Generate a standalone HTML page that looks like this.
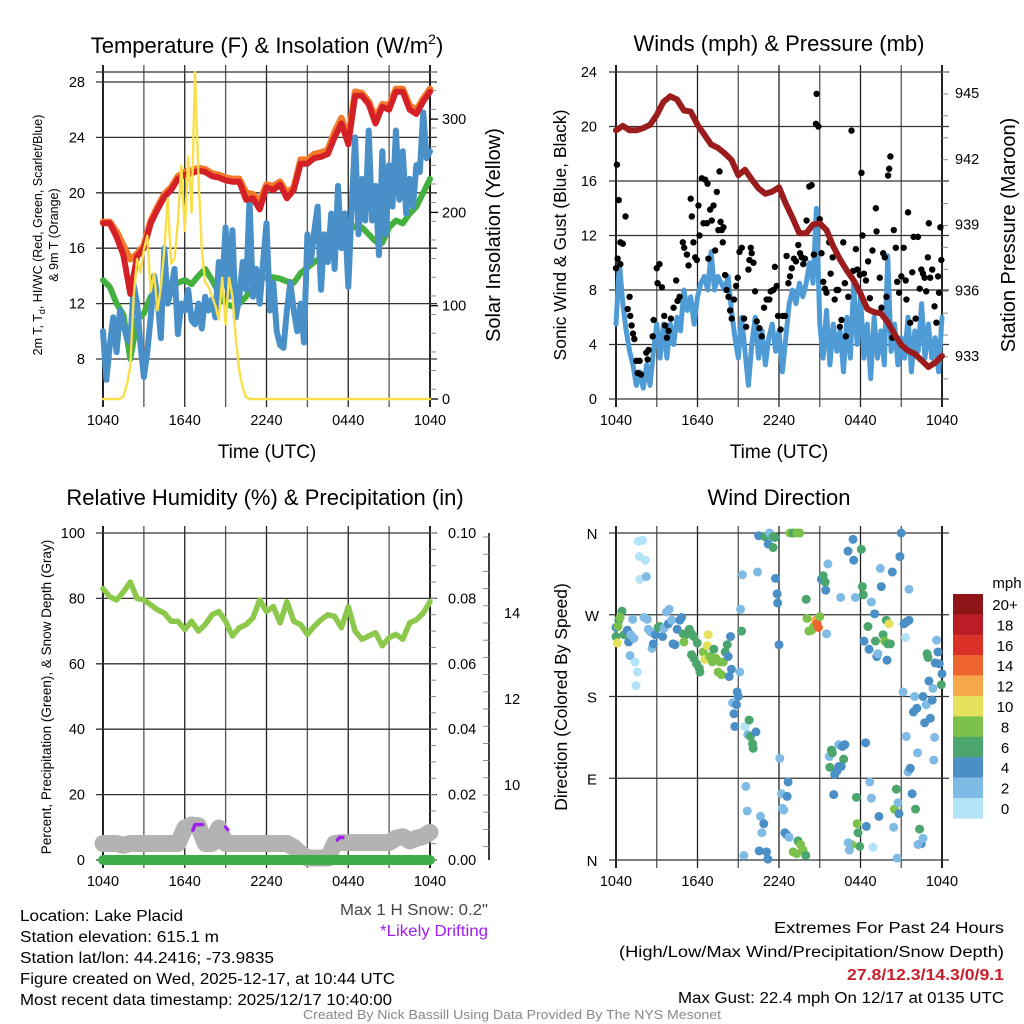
<!DOCTYPE html>
<html><head><meta charset="utf-8"><style>
html,body{margin:0;padding:0;background:#fff;}
svg{display:block;font-family:"Liberation Sans",sans-serif;}
.nar{font-family:"Liberation Sans Narrow","Liberation Sans",sans-serif;}
</style></head><body>
<svg id="chart" width="1024" height="1024" viewBox="0 0 1024 1024" xmlns="http://www.w3.org/2000/svg">
<rect x="0" y="0" width="1024" height="1024" fill="#fff"/>
<text x="267" y="53" font-size="22" text-anchor="middle">Temperature (F) &amp; Insolation (W/m<tspan dy="-9" font-size="14">2</tspan><tspan dy="9">)</tspan></text>
<text x="779" y="51" font-size="22" text-anchor="middle">Winds (mph) &amp; Pressure (mb)</text>
<text x="265" y="505" font-size="22" text-anchor="middle">Relative Humidity (%) &amp; Precipitation (in)</text>
<text x="779" y="505" font-size="22" text-anchor="middle">Wind Direction</text>
<text x="267" y="458" font-size="19" text-anchor="middle">Time (UTC)</text>
<text x="779" y="458" font-size="19" text-anchor="middle">Time (UTC)</text>
<text transform="translate(42,235) rotate(-90)" font-size="12.5" text-anchor="middle">2m T, T<tspan dy="3" font-size="9">d</tspan><tspan dy="-3">, HI/WC (Red, Green, Scarlet/Blue)</tspan></text>
<text transform="translate(58,235) rotate(-90)" font-size="12.5" text-anchor="middle">&amp; 9m T (Orange)</text>
<text transform="translate(500,235) rotate(-90)" font-size="20" text-anchor="middle">Solar Insolation (Yellow)</text>
<text transform="translate(566,235) rotate(-90)" font-size="17.5" text-anchor="middle">Sonic Wind &amp; Gust (Blue, Black)</text>
<text transform="translate(1015,235) rotate(-90)" font-size="20" text-anchor="middle">Station Pressure (Maroon)</text>
<text transform="translate(51,697) rotate(-90)" font-size="13.5" text-anchor="middle">Percent, Precipitation (Green), &amp; Snow Depth (Gray)</text>
<text transform="translate(567,697) rotate(-90)" font-size="17.5" text-anchor="middle">Direction (Colored By Speed)</text>
<text x="1007" y="588" font-size="15" text-anchor="middle">mph</text>
<g class="nar" font-size="15.5" fill="#000">
<text x="20" y="921" textLength="163" lengthAdjust="spacingAndGlyphs">Location: Lake Placid</text>
<text x="20" y="942" textLength="199" lengthAdjust="spacingAndGlyphs">Station elevation: 615.1 m</text>
<text x="20" y="963" textLength="254" lengthAdjust="spacingAndGlyphs">Station lat/lon: 44.2416; -73.9835</text>
<text x="20" y="984" textLength="375" lengthAdjust="spacingAndGlyphs">Figure created on Wed, 2025-12-17, at 10:44 UTC</text>
<text x="20" y="1005" textLength="372" lengthAdjust="spacingAndGlyphs">Most recent data timestamp: 2025/12/17 10:40:00</text>
<text x="488" y="915" text-anchor="end" fill="#444" textLength="148" lengthAdjust="spacingAndGlyphs">Max 1 H Snow: 0.2"</text>
<text x="488" y="936" text-anchor="end" fill="#a020f0" textLength="108" lengthAdjust="spacingAndGlyphs">*Likely Drifting</text>
<text x="1004" y="933" text-anchor="end" textLength="230" lengthAdjust="spacingAndGlyphs">Extremes For Past 24 Hours</text>
<text x="1004" y="957" text-anchor="end" textLength="385" lengthAdjust="spacingAndGlyphs">(High/Low/Max Wind/Precipitation/Snow Depth)</text>
<text x="1004" y="980" text-anchor="end" fill="#c8202b" font-weight="bold" textLength="157" lengthAdjust="spacingAndGlyphs">27.8/12.3/14.3/0/9.1</text>
<text x="1004" y="1003" text-anchor="end" textLength="326" lengthAdjust="spacingAndGlyphs">Max Gust: 22.4 mph On 12/17 at 0135 UTC</text>
<text x="512" y="1019" text-anchor="middle" fill="#888" font-size="12.5" textLength="418" lengthAdjust="spacingAndGlyphs">Created By Nick Bassill Using Data Provided By The NYS Mesonet</text>
</g>
</svg>
<script>
// ---- Data ----
const xTickLabels = ["1040","1640","2240","0440","1040"];
const tempTicks = [8,12,16,20,24,28];
const insolTicks = [0,100,200,300];
const windTicks = [0,4,8,12,16,20,24];
const presTicks = [933,936,939,942,945];
const rhTicks = [0,20,40,60,80,100];
const precipTicks = ["0.00","0.02","0.04","0.06","0.08","0.10"];
const snowTicks = [10,12,14];
const dirLabels = ["N","E","S","W","N"];
const speedBins = ["0","2","4","6","8","10","12","14","16","18","20+"];
const speedColors = ["#b3e3f7","#7fbbe4","#4a8fc6","#4aa66d","#7cc24a","#e5e15a","#f5a94a","#ef6530","#da3128","#bb1d25","#8e1418"];

const tempRed = [17.8,17.8,16.8,15.5,12.7,15.4,16.0,17.8,18.8,19.7,20.2,21.0,21.3,21.4,21.6,21.5,21.2,21.1,20.9,20.8,20.8,19.5,19.6,18.8,20.4,20.2,20.6,19.6,20.2,22.1,22.1,22.5,22.6,22.8,24.0,25.0,23.5,27.0,27.0,26.4,25.0,26.2,26.0,27.3,27.3,26.0,25.7,26.6,27.3];
const temp9m = [17.9,17.9,17.2,16.2,15.2,15.6,16.2,18.0,19.0,19.9,20.4,21.2,21.5,21.6,21.8,21.7,21.4,21.3,21.1,21.0,21.0,20.0,19.9,19.4,20.6,20.5,20.8,20.0,20.4,22.4,22.4,22.8,22.9,23.1,24.4,25.4,24.0,27.3,27.2,26.6,25.4,26.4,26.3,27.5,27.5,26.3,26.0,26.8,27.5];
const dewGreen = [13.7,13.2,12.0,11.2,8.0,10.8,11.3,12.5,12.8,12.3,13.2,13.5,13.7,13.4,14.0,14.5,13.7,12.8,12.0,11.8,12.0,12.5,13.2,13.8,13.9,13.9,13.8,13.6,13.5,14.2,14.6,15.0,15.3,16.2,17.3,18.0,17.9,17.5,17.5,17.0,16.5,16.4,17.5,18.0,17.8,18.5,19.0,20.0,21.0];
const hiwcBlue = [10.0,6.5,9.0,11.0,8.5,11.5,10.5,9.5,9.2,13.3,12.0,9.0,6.7,8.5,11.0,14.0,12.5,9.5,16.0,12.0,13.0,14.5,9.8,12.0,11.5,13.0,10.8,10.5,12.0,10.2,12.5,11.5,12.3,11.0,15.0,13.2,17.5,12.5,17.3,11.0,12.5,15.0,13.0,19.5,12.5,14.5,12.0,15.0,17.8,11.5,13.5,10.0,9.0,8.8,11.5,13.5,11.5,10.0,12.0,9.2,17.0,15.0,17.2,19.0,13.0,17.0,15.0,18.5,14.5,20.5,16.0,18.5,13.2,19.0,24.0,17.0,21.0,18.0,24.5,18.0,20.5,15.5,23.0,17.0,22.0,19.0,24.5,19.5,23.0,18.5,21.0,19.0,22.0,21.5,25.8,22.5,23.0];
const insolation = [0,0,0,0,0,0,3,15,35,110,150,135,160,175,115,135,95,120,160,215,145,150,190,250,180,260,200,350,240,160,125,120,110,100,85,130,80,130,110,65,30,12,2,0,0,0,0,0,0,0,0,0,0,0,0,0,0,0,0,0,0,0,0,0,0,0,0,0,0,0,0,0,0,0,0,0,0,0,0,0,0,0,0,0,0,0,0,0,0,0,0,0,0,0,0,0,0];

const windBlue = [5.5,10.0,7.0,5.0,3.5,2.5,1.0,2.0,0.8,2.5,1.0,3.5,5.5,3.0,5.5,3.0,5.5,4.0,6.0,5.0,8.0,6.5,7.5,5.5,7.5,8.5,9.0,8.0,10.8,8.0,9.0,8.5,8.0,9.0,6.5,4.5,3.0,6.0,3.5,1.0,4.0,6.0,3.0,5.0,2.5,4.5,5.5,3.5,5.0,2.0,4.5,7.0,8.0,7.0,8.5,7.5,8.5,10.0,8.5,14.0,5.5,3.0,6.5,2.5,5.5,3.5,5.0,2.0,6.0,3.0,8.5,4.0,7.5,3.0,5.5,1.5,6.0,3.0,5.0,2.5,10.5,3.5,5.5,2.5,4.5,3.0,6.0,2.0,5.0,3.5,7.0,3.0,5.5,3.0,4.5,2.0,6.0];
const pressure = [943.3,943.5,943.3,943.3,943.4,943.55,944.0,944.6,944.85,944.7,944.2,944.15,943.55,943.1,942.65,942.5,942.25,941.95,941.25,941.5,941.05,940.65,940.4,940.5,940.7,939.95,939.3,938.6,938.6,939.0,939.05,938.75,938.0,937.4,936.9,936.45,935.85,935.15,935.0,934.95,934.55,934.0,933.5,933.25,933.1,932.8,932.5,932.7,933.0];
const gustHours = [0,0.12,0.07,0.2,0.32,0.5,0.32,0.7,0.86,1.0,1.05,1.15,1.25,1.35,1.5,1.74,1.6,1.84,2.23,2.4,2.33,2.7,2.77,3.0,3.2,3.06,3.38,3.55,3.62,3.75,3.87,4.04,4.24,4.43,4.53,4.68,4.92,5.02,5.22,5.34,5.5,5.58,5.7,5.83,5.95,6.07,6.15,6.32,6.44,6.56,6.69,6.74,6.8,6.93,7.05,7.18,7.3,7.42,7.54,7.62,7.7,7.79,7.86,7.91,8.03,8.15,8.28,8.4,8.52,8.69,8.84,8.96,9.09,9.26,9.43,9.58,9.75,9.82,9.92,9.99,10.12,10.24,10.36,10.56,10.73,10.9,11.09,11.29,11.39,11.58,11.7,11.83,11.93,12.12,12.27,12.44,12.56,12.69,12.81,12.94,13.1,13.25,13.42,13.55,13.67,13.79,13.91,14.03,14.23,14.4,14.57,14.77,14.72,14.9,15.0,15.13,15.26,15.38,15.5,15.7,15.8,15.95,16.1,16.24,16.36,16.48,16.6,16.73,16.85,16.92,17.1,17.34,17.46,17.66,17.76,17.95,18.07,18.15,18.25,18.4,18.56,18.69,18.88,19.13,19.18,19.42,19.54,19.67,19.79,19.91,20.11,20.2,20.03,20.35,20.45,20.6,20.7,20.84,21.01,21.18,21.33,21.38,21.5,21.66,21.81,21.91,22.06,22.23,22.36,22.48,22.6,22.72,22.84,22.96,23.03,23.13,23.28,23.45,23.59,23.71,23.78,23.88,23.95];
const gustValues = [9.6,10.3,17.2,14.6,11.5,11.4,9.9,13.4,6.6,7.5,6.1,5.4,4.8,4.4,2.8,2.8,1.9,1.8,3.4,3.6,2.9,4.6,5.8,9.6,9.9,8.5,8.2,6.1,5.4,4.5,5.0,5.9,6.7,8.7,7.2,7.5,11.5,11.1,10.6,9.8,14.7,13.4,11.5,10.4,10.2,14.2,12.0,16.2,12.9,16.1,12.9,15.8,10.3,13.9,13.1,14.2,10.9,15.2,12.4,16.7,13.0,12.4,11.5,12.6,9.1,8.0,7.5,6.5,5.9,7.3,8.3,8.9,10.8,11.1,5.9,5.3,9.5,10.2,11.1,10.7,10.0,7.9,5.7,5.2,4.6,6.7,7.3,7.3,7.9,8.0,9.7,8.3,6.1,5.1,6.1,6.1,10.5,8.5,9.0,9.6,10.3,10.1,11.3,10.7,10.4,9.9,10.3,13.1,15.6,15.7,10.6,22.4,20.2,20.0,13.2,10.7,8.6,8.1,7.8,11.5,9.2,10.4,7.3,8.0,8.0,5.3,5.8,11.5,8.5,4.6,7.5,19.7,9.4,11.0,9.5,9.1,16.6,12.0,9.2,8.7,10.1,7.4,10.9,14.0,12.3,8.9,6.7,10.7,10.4,7.5,16.9,17.8,16.4,4.5,12.4,11.1,8.6,7.8,9.0,11.1,8.7,7.3,13.7,5.6,9.3,11.9,5.9,11.9,8.1,9.5,9.2,8.9,7.9,10.4,12.9,8.9,9.5,6.8,5.6,9.0,7.8,12.6,10.2];

const rhValues = [83,80.5,79.5,82,85,80,79.5,78,76.5,75.5,73,73,70.5,73,70,72,75,76,73,68.5,71,72,74,79.5,76,77.5,72.5,79,73,72,69,71.5,73.5,75,74.5,71,77.5,70,67.5,68.5,69.5,65.5,68,69,67.5,72.5,73.5,75.5,79];
const precipValues = [0,0,0,0,0,0,0,0,0,0,0,0,0,0,0,0,0,0,0,0,0,0,0,0,0,0,0,0,0,0,0,0,0,0,0,0,0,0,0,0,0,0,0,0,0,0,0,0,0];
const snowDepth = [8.64,8.64,8.64,8.6,8.64,8.64,8.64,8.64,8.64,8.64,8.64,8.64,9.0,9.07,9.05,8.64,8.64,9.0,8.64,8.64,8.64,8.64,8.64,8.64,8.64,8.64,8.64,8.64,8.55,8.41,8.3,8.3,8.3,8.3,8.64,8.66,8.66,8.66,8.66,8.66,8.66,8.66,8.66,8.76,8.8,8.7,8.76,8.8,8.9];
const driftHours = [[6.6,6.75,7.3],[9.0,9.15],[17.2,17.35,17.6]];
const driftDepth = [[8.95,9.08,9.08],[9.02,8.96],[8.72,8.78,8.78]];

const dirHours = [1.64,1.96,1.72,2.16,1.76,2.23,0,0,0.1,0.2,0.44,0.3,0.15,0.6,0.83,0.93,1.08,1.23,1.32,1.03,1.4,1.57,1.47,2.06,2.3,2.38,2.55,2.65,2.75,2.9,3.1,3.23,3.43,3.53,3.72,3.92,3.85,4.1,4.2,4.34,4.5,4.7,4.83,4.95,5.15,5.4,5.56,5.73,5.0,5.98,5.56,5.73,5.93,6.13,6.18,6.42,6.54,6.79,6.72,6.9,7.1,7.2,7.35,7.52,7.77,7.65,7.9,8.04,8.19,8.26,8.43,8.5,8.33,9.12,8.92,9.0,8.58,8.87,8.68,8.75,9.17,9.24,9.31,10.42,10.5,10.96,11.3,11.2,11.57,11.7,11.57,11.74,11.86,11.9,12.0,9.5,9.8,9.7,9.9,10.05,10.1,10.3,12.06,9.56,9.66,10.64,10.88,10.74,10.54,11.08,11.18,9.41,12.18,12.67,12.6,12.25,12.35,12.43,12.55,12.75,12.8,13.04,13.3,13.53,13.04,13.3,13.4,13.58,13.77,13.97,14.0,14.06,14.2,14.4,14.56,14.7,14.8,14.9,15.0,15.12,15.25,15.4,15.44,15.5,15.6,15.7,15.86,15.93,15.74,16.1,16.27,16.4,16.58,16.76,16.4,16.67,16.85,16.03,16.54,17.08,17.45,17.5,17.62,18.06,18.14,18.2,18.26,18.38,18.55,18.63,18.8,19.04,19.1,19.2,19.28,19.46,19.53,19.66,19.78,19.9,20.0,20.1,20.2,19.95,20.34,17.7,17.75,17.82,17.94,17.35,17.1,17.18,18.43,18.68,18.8,18.92,19.36,20.44,20.5,20.64,20.76,20.83,20.7,20.9,21.0,21.2,21.37,21.57,21.32,21.57,21.13,21.37,21.5,21.67,21.8,21.9,21.98,22.15,22.2,22.05,22.35,22.47,22.6,22.23,22.6,22.72,22.84,22.9,22.97,23.04,23.14,23.28,23.33,23.4,23.45,23.5,23.6,23.7,23.8,23.95,24.0];
const dirDegrees = [351,352,334,330,309,312,256,246,239,264,274,267,257,248,253,240,248,265,244,225,218,207,192,267,265,254,251,233,238,248,256,257,246,255,273,276,260,264,238,237,254,264,267,249,248,254,249,246,240,239,226,222,216,211,207,229,221,248,236,224,218,232,222,207,204,218,218,229,237,224,246,210,202,207,185,180,173,171,161,147,276,252,314,317,357,356,360,348,356,355,344,310,293,283,237,147,154,138,136,128,123,141,112,81,54,48,40,30,10,9,1,5,73,86,70,57,55,30,28,25,360,360,360,360,9,7,21,17,11,5,287,266,252,253,257,264,260,256,268,309,313,306,297,249,326,114,121,118,102,94,98,103,103,111,127,125,127,72,289,340,353,330,289,342,301,292,241,129,257,232,284,271,241,224,227,321,301,248,241,264,238,260,238,220,317,69,40,30,15,17,19,11,37,86,68,14,48,36,56,78,63,51,2,334,360,260,262,264,245,298,185,136,97,101,73,163,180,167,118,56,34,18,24,17,180,151,171,227,223,197,156,176,189,110,135,217,242,229,216,193,205];
const dirSpeeds = [1,1,1,1,1,3,4,6,10,7,6,8,8,6,4,4,2,3,2,2,1,1,0,2,3,2,2,2,4,4,6,6,4,2,2,2,4,3,4,4,4,4,4,6,7,7,6,6,8,6,6,6,6,6,6,8,10,10,10,8,8,7,8,8,8,8,8,6,6,4,4,4,4,3,4,4,3,4,4,4,2,6,2,2,4,6,2,4,6,6,6,4,4,4,4,0,6,3,6,6,6,4,2,2,2,2,4,2,4,4,4,2,2,4,4,2,2,4,4,2,8,7,8,8,8,8,7,8,8,6,6,8,8,8,8,12,14,14,8,4,6,6,4,2,2,2,6,6,6,4,4,4,4,6,2,4,4,4,2,4,4,4,2,6,7,6,4,4,6,4,2,4,6,4,2,2,4,6,8,6,6,10,6,4,4,6,8,6,6,8,2,2,4,2,2,0,4,2,8,6,2,4,2,4,4,4,4,4,0,2,2,2,2,4,4,4,2,4,2,6,6,4,2,2,4,4,2,6,6,4,4,4,2,2,2,4,2,4,4,6];

// ---- Scales ----
const NS = "http://www.w3.org/2000/svg";
const svg = document.getElementById('chart');
function mk(tag, attrs){ const e = document.createElementNS(NS, tag); for (const k in attrs) e.setAttribute(k, attrs[k]); svg.appendChild(e); return e; }
const L = {x0:103, x1:430}, R = {x0:616, x1:942};
function xL(h){ return L.x0 + h * (L.x1 - L.x0) / 24; }
function xR(h){ return R.x0 + h * (R.x1 - R.x0) / 24; }
function yTemp(t){ return 82 + (28 - t) * 13.85; }
function yInsol(v){ return 399 - Math.min(v, 350) * 0.933; }
function yWind(v){ return 399 - v * 327 / 24; }
function yPres(p){ return 93 + (945 - p) * 21.92; }
function yRH(v){ return 860 - v * 3.27; }
function yPrecip(v){ return 860 - v * 3270; }
function ySnow(v){ return 613 + (14 - v) * 43; }
function yDir(d){ return 860 - d * 327 / 360; }

function frame(px, y0, y1, hLines, name){
  for (let i = 0; i <= 8; i++){
    const x = px.x0 + i * (px.x1 - px.x0) / 8;
    const g = mk('line', {x1:x, x2:x, y1:y0-7, y2:y1+8, stroke: (i%2? '#555':'#222'), 'stroke-width': (i===0||i===8)?2:1.3});
    
    
  }
  hLines.forEach(y => {
    const g = mk('line', {x1:px.x0-7, x2:px.x1+7, y1:y, y2:y, stroke:'#333', 'stroke-width':1.3});
    
    
  });
  xTickLabels.forEach((lab, i) => {
    const t = mk('text', {x: px.x0 + i * (px.x1 - px.x0) / 4, y: y1 + 26, 'font-size': 14.5, 'text-anchor':'middle'});
    t.textContent = lab;
    
    
  });
}
function tickLabels(list, yfn, x, anchor, name, fmt){
  list.forEach(v => {
    const t = mk('text', {x:x, y: yfn(typeof v === 'string' ? parseFloat(v) : v) + 5, 'font-size':14.5, 'text-anchor':anchor});
    t.textContent = fmt ? fmt(v) : v;
    
    
  });
}
function minorTicks(x, y0, y1, step, dir){
  for (let y = y0; y <= y1 + 0.1; y += step){
    const m = mk('line', {x1:x, x2:x + dir*6, y1:y, y2:y, stroke:'#888', 'stroke-width':1});
    
    
  }
}
function poly(hours, vals, xf, yf, color, w, name){
  const d = hours.map((h, i) => (i ? 'L' : 'M') + xf(h).toFixed(1) + ' ' + yf(vals[i]).toFixed(1)).join(' ');
  const p = mk('path', {d:d, fill:'none', stroke:color, 'stroke-width':w, 'stroke-linejoin':'round', 'stroke-linecap':'round'});
  
  
  return p;
}
const hrs = (n) => Array.from({length:n}, (_, i) => i * 24 / (n - 1));

// ---- Panel 1: Temperature ----
frame(L, 72, 399, tempTicks.map(yTemp).concat([72]), 'temperature');
minorTicks(L.x0-6, 82, 399, 13.85, 0);
minorTicks(L.x1, 72, 399, 18.66, 1);
tickLabels(tempTicks, yTemp, 85, 'end', 'temperature-y-tick-label');
tickLabels(insolTicks, yInsol, 442, 'start', 'insolation-y-tick-label');
insolTicks.forEach(v => { const k = mk('line', {x1:430, x2:438, y1:yInsol(v), y2:yInsol(v), stroke:'#000', 'stroke-width':1.3});   });
poly(hrs(dewGreen.length), dewGreen, xL, yTemp, '#44b03f', 6, 'dewpoint-line');
poly(hrs(hiwcBlue.length), hiwcBlue, xL, yTemp, '#4a90c8', 6, 'heat-index-wind-chill-line');
poly(hrs(temp9m.length), temp9m, xL, yTemp, '#f4792a', 6.5, 'temperature-9m-line');
poly(hrs(tempRed.length), tempRed, xL, yTemp, '#d42027', 6, 'temperature-2m-line');
poly(hrs(insolation.length), insolation, xL, yInsol, '#f9e04b', 2.4, 'insolation-line');

// ---- Panel 2: Winds ----
frame(R, 72, 399, windTicks.map(yWind), 'winds');
minorTicks(R.x1, 72, 399, 21.92, 1);
tickLabels(windTicks, yWind, 597, 'end', 'wind-y-tick-label');
tickLabels(presTicks, yPres, 955, 'start', 'pressure-y-tick-label');
poly(hrs(windBlue.length), windBlue, xR, yWind, '#4f9bd6', 5, 'sonic-wind-line');
gustHours.forEach((h, i) => {
  const c = mk('circle', {cx:xR(h), cy:yWind(gustValues[i]), r:3.2, fill:'#000'});
  
  
});
poly(hrs(pressure.length), pressure, xR, yPres, '#9b1c1c', 6, 'pressure-line');

// ---- Panel 3: Humidity ----
frame(L, 533, 860, rhTicks.map(yRH), 'humidity');
minorTicks(L.x0-6, 533, 860, 32.7, 0);
minorTicks(L.x1, 533, 860, 16.35, 1);
tickLabels(rhTicks, yRH, 85, 'end', 'humidity-y-tick-label');
tickLabels(precipTicks, yPrecip, 448, 'start', 'precip-y-tick-label');
const sa = mk('line', {x1:489, x2:489, y1:533, y2:860, stroke:'#000', 'stroke-width':1.5});


minorTicks(483, 533+4, 860, 17.2, 1);
tickLabels(snowTicks, ySnow, 504, 'start', 'snow-depth-y-tick-label');
poly(hrs(snowDepth.length), snowDepth, xL, ySnow, '#b3b3b3', 17, 'snow-depth-line');
poly(hrs(precipValues.length), precipValues, xL, yPrecip, '#3fae49', 10, 'precipitation-line');
poly(hrs(rhValues.length), rhValues, xL, yRH, '#8cc84b', 5.5, 'relative-humidity-line');
driftHours.forEach((hs, i) => { poly(hs, driftDepth[i], xL, ySnow, '#a020f0', 3.5, 'likely-drifting-marker'); });

// ---- Panel 4: Wind direction ----
frame(R, 533, 860, [0,90,180,270,360].map(yDir), 'direction');
dirLabels.forEach((lab, i) => {
  const t = mk('text', {x:592, y: yDir(i*90) + 6, 'font-size':15, 'text-anchor':'middle'});
  t.textContent = lab;
  
  
});
dirHours.forEach((h, i) => {
  if (dirDegrees[i] === undefined) return;
  const sp = dirSpeeds[i] === undefined ? 4 : dirSpeeds[i];
  const c = mk('circle', {cx:xR(h), cy:yDir(dirDegrees[i]), r:4.5, fill: speedColors[Math.min(10, Math.floor(sp/2))]});
  
  
});
speedBins.forEach((lab, i) => {
  const idx = 10 - i;
  const y = 594 + i * 20.4;
  const r = mk('rect', {x:953, y:y, width:30, height:20.6, fill:speedColors[idx]});
  
  
  const t = mk('text', {x:1005, y:y+16, 'font-size':15, 'text-anchor':'middle'});
  t.textContent = speedBins[idx];
  
  
});
</script>
</body></html>
